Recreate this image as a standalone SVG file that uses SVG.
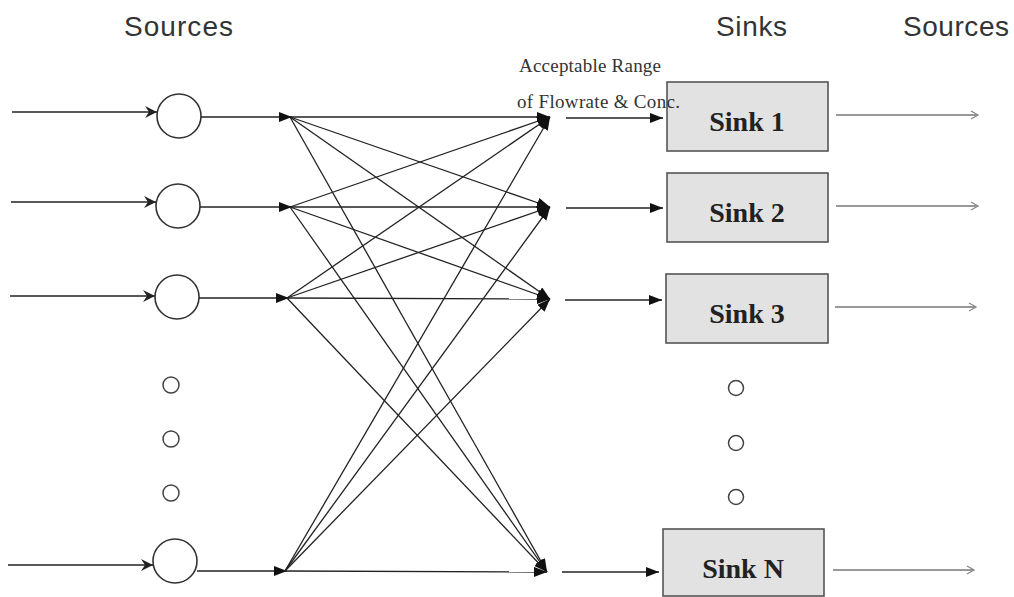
<svg xmlns="http://www.w3.org/2000/svg" width="1014" height="597" viewBox="0 0 1014 597">
<style>
.hd{font-family:"Liberation Sans",Arial,sans-serif;font-size:28px;fill:#333}
.note{font-family:"Liberation Serif","Times New Roman",serif;font-size:19px;fill:#333}
.sk{font-family:"Liberation Serif","Times New Roman",serif;font-size:28px;font-weight:bold;fill:#222;text-anchor:middle}
.box{fill:#e2e2e2;stroke:#555;stroke-width:1.6}
.src{fill:#fff;stroke:#333;stroke-width:1.6}
.dot{fill:none;stroke:#444;stroke-width:1.5}
.ln{stroke:#222;stroke-width:1.3;fill:none}
.out{stroke:#333;stroke-width:1.2;fill:none}
</style>
<defs>
<marker id="tri" markerUnits="userSpaceOnUse" markerWidth="14" markerHeight="12" refX="13" refY="5" orient="auto">
<path d="M0,0 L13,5 L0,10 z" fill="#111"/>
</marker>
<marker id="chev" markerUnits="userSpaceOnUse" markerWidth="14" markerHeight="14" refX="12" refY="6" orient="auto">
<path d="M0,0 L12,6 L0,12 L4,6 z" fill="#222"/>
</marker>
<marker id="faint" markerUnits="userSpaceOnUse" markerWidth="12" markerHeight="12" refX="9" refY="5" orient="auto">
<path d="M2,1 L9,5 L2,9" fill="none" stroke="#888" stroke-width="1.3"/>
</marker>
</defs>

<g id="headings">
<text class="hd" x="124" y="36" textLength="109">Sources</text>
<text class="hd" x="716" y="36" textLength="71">Sinks</text>
<text class="hd" x="903" y="36" textLength="106">Sources</text>
</g>

<g id="source-1"><circle class="src" cx="179" cy="116" r="22"/></g>
<g id="source-2"><circle class="src" cx="178" cy="206" r="22"/></g>
<g id="source-3"><circle class="src" cx="177" cy="297" r="22"/></g>
<g id="source-n"><circle class="src" cx="175" cy="561" r="22"/></g>
<g id="source-dots">
<circle class="dot" cx="171" cy="385" r="8"/>
<circle class="dot" cx="171" cy="439" r="8"/>
<circle class="dot" cx="171" cy="493" r="8"/>
</g>

<g id="sink-1"><rect class="box" x="667" y="82" width="161" height="69"/><text class="sk" x="747" y="131">Sink 1</text></g>
<g id="sink-2"><rect class="box" x="667" y="173" width="161" height="69"/><text class="sk" x="747" y="222">Sink 2</text></g>
<g id="sink-3"><rect class="box" x="666" y="274" width="162" height="69"/><text class="sk" x="747" y="323">Sink 3</text></g>
<g id="sink-n"><rect class="box" x="663" y="529" width="161" height="67"/><text class="sk" x="743" y="578">Sink N</text></g>
<g id="sink-dots">
<circle class="dot" cx="736" cy="388" r="7.5"/>
<circle class="dot" cx="736" cy="443" r="7.5"/>
<circle class="dot" cx="736" cy="497" r="7.5"/>
</g>

<g id="annotation">
<text class="note" x="519" y="72" textLength="142" lengthAdjust="spacing">Acceptable Range</text>
<text class="note" x="517" y="108" textLength="163" lengthAdjust="spacing">of Flowrate &amp; Conc.</text>
</g>

<g id="connectors">
<line class="ln" x1="12" y1="112" x2="157" y2="112" marker-end="url(#chev)"/>
<line class="ln" x1="11" y1="202" x2="156" y2="202" marker-end="url(#chev)"/>
<line class="ln" x1="10" y1="296" x2="155" y2="296" marker-end="url(#chev)"/>
<line class="ln" x1="8" y1="565" x2="153" y2="565" marker-end="url(#chev)"/>
<line class="ln" x1="201" y1="117" x2="292" y2="117" marker-end="url(#tri)"/>
<line class="ln" x1="200" y1="207" x2="292" y2="207" marker-end="url(#tri)"/>
<line class="ln" x1="199" y1="298" x2="289" y2="298" marker-end="url(#tri)"/>
<line class="ln" x1="197" y1="571" x2="287" y2="571" marker-end="url(#tri)"/>
<line class="ln" x1="290" y1="117" x2="550" y2="117" marker-end="url(#tri)"/>
<line class="ln" x1="290" y1="117" x2="550" y2="207" marker-end="url(#tri)"/>
<line class="ln" x1="290" y1="117" x2="550" y2="299" marker-end="url(#tri)"/>
<line class="ln" x1="290" y1="117" x2="547" y2="572" marker-end="url(#tri)"/>
<line class="ln" x1="290" y1="207" x2="550" y2="117" marker-end="url(#tri)"/>
<line class="ln" x1="290" y1="207" x2="550" y2="207" marker-end="url(#tri)"/>
<line class="ln" x1="290" y1="207" x2="550" y2="299" marker-end="url(#tri)"/>
<line class="ln" x1="290" y1="207" x2="547" y2="572" marker-end="url(#tri)"/>
<line class="ln" x1="287" y1="298" x2="550" y2="117" marker-end="url(#tri)"/>
<line class="ln" x1="287" y1="298" x2="550" y2="207" marker-end="url(#tri)"/>
<line class="ln" x1="287" y1="298" x2="550" y2="299" marker-end="url(#tri)"/>
<line class="ln" x1="287" y1="298" x2="547" y2="572" marker-end="url(#tri)"/>
<line class="ln" x1="285" y1="571" x2="550" y2="117" marker-end="url(#tri)"/>
<line class="ln" x1="285" y1="571" x2="550" y2="207" marker-end="url(#tri)"/>
<line class="ln" x1="285" y1="571" x2="550" y2="299" marker-end="url(#tri)"/>
<line class="ln" x1="285" y1="571" x2="547" y2="572" marker-end="url(#tri)"/>
<line class="ln" x1="566" y1="118" x2="663" y2="118" marker-end="url(#tri)"/>
<line class="ln" x1="566" y1="208" x2="663" y2="208" marker-end="url(#tri)"/>
<line class="ln" x1="565" y1="300" x2="662" y2="300" marker-end="url(#tri)"/>
<line class="ln" x1="562" y1="572" x2="659" y2="572" marker-end="url(#tri)"/>
<line class="out" x1="836" y1="115" x2="978" y2="115" marker-end="url(#faint)"/>
<line class="out" x1="836" y1="206" x2="978" y2="206" marker-end="url(#faint)"/>
<line class="out" x1="835" y1="307" x2="976" y2="307" marker-end="url(#faint)"/>
<line class="out" x1="833" y1="570" x2="974" y2="570" marker-end="url(#faint)"/>
</g>
</svg>
